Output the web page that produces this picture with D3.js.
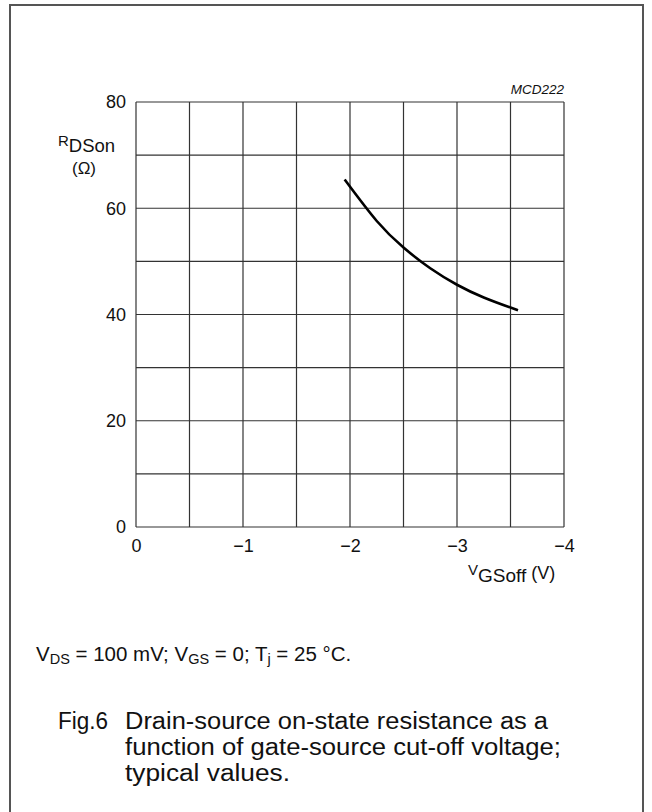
<!DOCTYPE html>
<html>
<head>
<meta charset="utf-8">
<script src="https://cdn.jsdelivr.net/npm/d3@7"></script>
<style>
  html, body { margin: 0; padding: 0; background: #fff; }
  svg { display: block; font-family: "Liberation Sans", Arial, sans-serif; }
</style>
</head>
<body>
<svg id="chart" width="652" height="812"></svg>
<script>
// Typical R_DSon versus V_GSoff curve
const vgsOff = [-1.95, -2.25, -2.5, -2.75, -3.0, -3.25, -3.5, -3.57];
const rdsOn  = [65.4, 57.6, 52.6, 48.7, 45.6, 43.2, 41.3, 40.8];

// Axis ticks and grid
const xTicks = [0, -1, -2, -3, -4];
const yTicks = [0, 20, 40, 60, 80];
const xGrid = d3.range(0, -4.01, -0.5);
const yGrid = d3.range(0, 80.1, 10);

const svg = d3.select("#chart");
const plotLeft = 136, plotRight = 564, plotTop = 102, plotBottom = 527;

const x = d3.scaleLinear().domain([0, -4]).range([plotLeft, plotRight]);
const y = d3.scaleLinear().domain([0, 80]).range([plotBottom, plotTop]);

// Outer frame (open at the bottom edge of the page)
svg.append("rect")
  .attr("x", 10).attr("y", 5)
  .attr("width", 633).attr("height", 820)
  .attr("fill", "none").attr("stroke", "#555").attr("stroke-width", 2);

// Grid
const grid = svg.append("g").attr("stroke", "#333").attr("stroke-width", 1.2).attr("fill", "none");
grid.selectAll("line.v").data(xGrid).join("line").attr("class", "v")
  .attr("x1", d => x(d)).attr("x2", d => x(d))
  .attr("y1", plotTop).attr("y2", plotBottom);
grid.selectAll("line.h").data(yGrid).join("line").attr("class", "h")
  .attr("x1", plotLeft).attr("x2", plotRight)
  .attr("y1", d => y(d)).attr("y2", d => y(d));

// Tick labels via axes (no tick marks, no domain path)
const xAxis = svg.append("g")
  .attr("transform", `translate(0,${plotBottom})`)
  .call(d3.axisBottom(x).tickValues(xTicks).tickSize(0).tickPadding(12).tickFormat(d3.format("d")));
const yAxis = svg.append("g")
  .attr("transform", `translate(${plotLeft},0)`)
  .call(d3.axisLeft(y).tickValues(yTicks).tickSize(0).tickPadding(10).tickFormat(d3.format("d")));
[xAxis, yAxis].forEach(g => {
  g.select(".domain").remove();
  g.selectAll("text").attr("font-size", 18).attr("fill", "#111")
    .attr("font-family", "'Liberation Sans', Arial, sans-serif");
});

// Curve
const pts = vgsOff.map((v, i) => [v, rdsOn[i]]);
svg.append("path")
  .datum(pts)
  .attr("fill", "none").attr("stroke", "#000").attr("stroke-width", 2.6)
  .attr("d", d3.line().x(d => x(d[0])).y(d => y(d[1])).curve(d3.curveNatural));

// Figure code
svg.append("text").attr("x", plotRight).attr("y", 94)
  .attr("text-anchor", "end").attr("font-size", 13.5).attr("font-style", "italic")
  .attr("fill", "#111").text("MCD222");

// Y axis title: R_DSon (Ω)
const yt = svg.append("text").attr("x", 58).attr("y", 146).attr("fill", "#111");
yt.append("tspan").attr("font-size", 15).text("R");
yt.append("tspan").attr("font-size", 18.5).attr("dy", 6).text("DSon");
svg.append("text").attr("x", 84).attr("y", 174).attr("text-anchor", "middle")
  .attr("font-size", 17).attr("fill", "#111").text("(Ω)");

// X axis title: V_GSoff (V)
const xt = svg.append("text").attr("x", 468).attr("y", 575).attr("fill", "#111");
xt.append("tspan").attr("font-size", 15).text("V");
xt.append("tspan").attr("font-size", 19).attr("dy", 7).text("GSoff");
xt.append("tspan").attr("font-size", 18).attr("dy", -3).text(" (V)");

// Conditions footnote
const fn = svg.append("text").attr("x", 36).attr("y", 661).attr("font-size", 20.5).attr("fill", "#111");
fn.append("tspan").text("V");
fn.append("tspan").attr("font-size", 14.5).attr("dy", 3).text("DS");
fn.append("tspan").attr("dy", -3).text(" = 100 mV; V");
fn.append("tspan").attr("font-size", 14.5).attr("dy", 3).text("GS");
fn.append("tspan").attr("dy", -3).text(" = 0; T");
fn.append("tspan").attr("font-size", 14.5).attr("dy", 3).text("j");
fn.append("tspan").attr("dy", -3).text(" = 25 °C.");

// Caption
const cap = svg.append("g").attr("font-size", 23).attr("fill", "#111");
cap.append("text").attr("x", 58).attr("y", 729)
  .attr("textLength", 50).attr("lengthAdjust", "spacingAndGlyphs").text("Fig.6");
const capLines = [
  "Drain-source on-state resistance as a",
  "function of gate-source cut-off voltage;",
  "typical values."
];
const capWidths = [423, 436, 165];
cap.selectAll("text.line").data(capLines).join("text")
  .attr("class", "line")
  .attr("x", 125).attr("y", (d, i) => 729 + i * 26)
  .attr("textLength", (d, i) => capWidths[i])
  .attr("lengthAdjust", "spacingAndGlyphs")
  .text(d => d);
</script>
</body>
</html>
